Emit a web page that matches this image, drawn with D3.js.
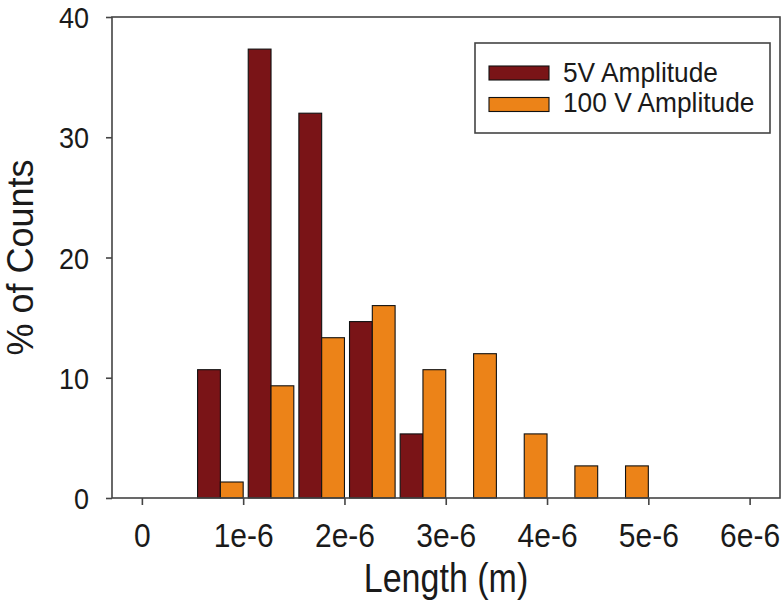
<!DOCTYPE html>
<html>
<head>
<meta charset="utf-8">
<script src="https://cdn.jsdelivr.net/npm/d3@7"></script>
<style>
  html, body { margin: 0; padding: 0; background: #fff; }
  svg { display: block; }
  text { font-family: "Liberation Sans", Arial, sans-serif; fill: #1a1a1a; }
</style>
</head>
<body>
<svg id="chart" width="782" height="611"></svg>
<script>
// ---- data ----
const binStarts = [0.5e-6, 1.0e-6, 1.5e-6, 2.0e-6, 2.5e-6, 3.0e-6, 3.5e-6, 4.0e-6, 4.5e-6];
const binWidth = 0.5e-6;
const seriesNames = ["5V Amplitude", "100 V Amplitude"];
const values5V   = [10.67, 37.33, 32.0, 14.67, 5.33, 0, 0, 0, 0];
const values100V = [1.33, 9.33, 13.33, 16.0, 10.67, 12.0, 5.33, 2.67, 2.67];
const xTickValues = [0, 1e-6, 2e-6, 3e-6, 4e-6, 5e-6, 6e-6];
const xTickLabels = ["0", "1e-6", "2e-6", "3e-6", "4e-6", "5e-6", "6e-6"];
const yTickValues = [0, 10, 20, 30, 40];
const colors = ["#7a1417", "#ec8318"];

// ---- layout ----
const L = 112, R = 780, T = 17, B = 498;
const svg = d3.select("#chart");

const x = d3.scaleLinear().domain([-0.295e-6, 6.3e-6]).range([L, R]);
const y = d3.scaleLinear().domain([0, 40]).range([B, T]);

// bars: within each bin, pair occupies [start+gap, start+binWidth]
const gapFrac = 0.1;     // fraction of bin left empty
const barFrac = 0.45;    // fraction of bin per bar
const series = [values5V, values100V];
const gBars = svg.append("g");
series.forEach((vals, si) => {
  gBars.selectAll(null)
    .data(binStarts.map((s, i) => ({ s, v: vals[i] })).filter(d => d.v > 0))
    .enter().append("rect")
    .attr("x", d => x(d.s + binWidth * (gapFrac + si * barFrac)))
    .attr("width", d => x(d.s + binWidth * (gapFrac + (si + 1) * barFrac)) - x(d.s + binWidth * (gapFrac + si * barFrac)))
    .attr("y", d => y(d.v))
    .attr("height", d => y(0) - y(d.v))
    .attr("fill", colors[si])
    .attr("stroke", "#111")
    .attr("stroke-width", 1.1);
});

// frame
svg.append("rect")
  .attr("x", L).attr("y", T).attr("width", R - L).attr("height", B - T)
  .attr("fill", "none").attr("stroke", "#444").attr("stroke-width", 1.6);

// x axis
const xAxis = svg.append("g").attr("transform", `translate(0,${B})`)
  .call(d3.axisBottom(x).tickValues(xTickValues)
    .tickFormat((d, i) => xTickLabels[i]).tickSize(7).tickSizeOuter(0));
xAxis.select(".domain").remove();
xAxis.selectAll(".tick line").attr("stroke", "#444").attr("stroke-width", 1.6);
xAxis.selectAll(".tick text")
  .attr("y", 0).attr("dy", 0)
  .attr("transform", "translate(0,49) scale(1,1.12)")
  .style("font-size", "30px").style("font-family", "'Liberation Sans', Arial, sans-serif").attr("fill", "#1a1a1a");

// y axis
const yAxis = svg.append("g").attr("transform", `translate(${L},0)`)
  .call(d3.axisLeft(y).tickValues(yTickValues).tickSize(6).tickSizeOuter(0));
yAxis.select(".domain").remove();
yAxis.selectAll(".tick line").attr("stroke", "#444").attr("stroke-width", 1.6);
yAxis.selectAll(".tick text")
  .attr("x", -23).attr("y", 0).attr("dy", "0.36em")
  .attr("transform", "scale(1,1.08)")
  .style("font-size", "27px").style("font-family", "'Liberation Sans', Arial, sans-serif").attr("fill", "#1a1a1a");

// axis titles
svg.append("text")
  .attr("transform", `translate(${(L + R) / 2},592) scale(1,1.17)`)
  .attr("text-anchor", "middle")
  .style("font-size", "34px")
  .text("Length (m)");

svg.append("text")
  .attr("transform", `translate(33,${(T + B) / 2}) rotate(-90) scale(1,1.03)`)
  .attr("text-anchor", "middle")
  .style("font-size", "36px")
  .text("% of Counts");

// legend
const lg = svg.append("g");
lg.append("rect")
  .attr("x", 475).attr("y", 43).attr("width", 295).attr("height", 90)
  .attr("fill", "#fff").attr("stroke", "#444").attr("stroke-width", 1.6);
seriesNames.forEach((name, i) => {
  lg.append("rect")
    .attr("x", 489).attr("y", 66 + i * 31.5).attr("width", 60).attr("height", 14)
    .attr("fill", colors[i]).attr("stroke", "#111").attr("stroke-width", 1.1);
  lg.append("text")
    .attr("transform", `translate(563,${82 + i * 29.5}) scale(1,1.08)`)
    .style("font-size", "26.3px")
    .text(name);
});
</script>
</body>
</html>
